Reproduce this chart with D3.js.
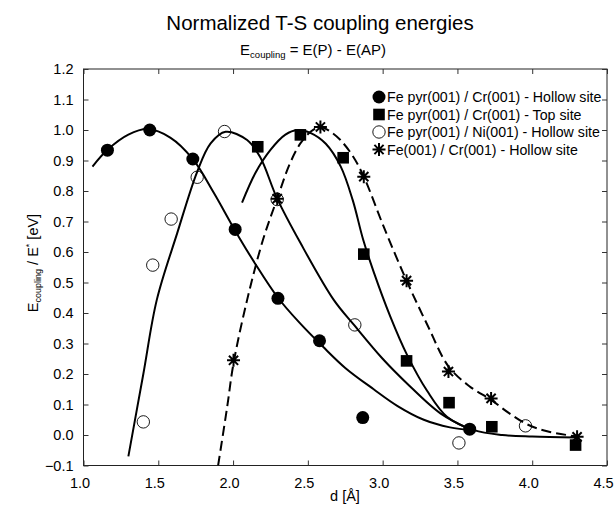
<!DOCTYPE html>
<html>
<head>
<meta charset="utf-8">
<script src="https://cdn.jsdelivr.net/npm/d3@7/dist/d3.min.js"></script>
<style>
  body { margin: 0; background: #fff; }
  svg { display: block; font-family: "Liberation Sans", Arial, Helvetica, sans-serif; }
</style>
</head>
<body>
<svg id="chart" width="616" height="506"></svg>
<script>
// ---- Data ----
const xTicks = [1.0, 1.5, 2.0, 2.5, 3.0, 3.5, 4.0, 4.5];
const yTicks = [-0.1, 0.0, 0.1, 0.2, 0.3, 0.4, 0.5, 0.6, 0.7, 0.8, 0.9, 1.0, 1.1, 1.2];

const seriesNames = [
  "Fe pyr(001) / Cr(001) - Hollow site",
  "Fe pyr(001) / Cr(001) - Top site",
  "Fe pyr(001) / Ni(001) - Hollow site",
  "Fe(001) / Cr(001) - Hollow site"
];

const hollowCr = [[1.16,0.934],[1.443,1.0],[1.731,0.905],[2.014,0.674],[2.30,0.448],[2.578,0.309],[2.867,0.057],[3.582,0.019]];
const topCr    = [[2.165,0.945],[2.45,0.984],[2.736,0.909],[2.874,0.593],[3.16,0.243],[3.444,0.106],[3.73,0.027],[4.29,-0.033]];
const hollowNi = [[1.40,0.043],[1.463,0.557],[1.586,0.708],[1.76,0.845],[1.943,0.995],[2.295,0.772],[2.814,0.361],[3.51,-0.026],[3.955,0.030]];
const feCr     = [[2.003,0.245],[2.295,0.775],[2.584,1.01],[2.874,0.847],[3.16,0.506],[3.44,0.208],[3.725,0.120],[4.30,-0.006]];

// fitted curves
const fitHollowCr = [[1.06,0.88],[1.16,0.935],[1.3,0.985],[1.43,1.003],[1.58,0.975],[1.73,0.905],[1.87,0.795],[2.014,0.67],[2.15,0.56],[2.3,0.45],[2.45,0.365],[2.6,0.29],[2.75,0.22],[2.94,0.15],[3.1,0.095],[3.275,0.05],[3.45,0.025],[3.6,0.015]];
const fitNi = [[1.3,-0.07],[1.4,0.2],[1.49,0.443],[1.626,0.661],[1.76,0.863],[1.85,0.956],[1.95,0.994],[2.094,0.967],[2.18,0.912],[2.295,0.775],[2.45,0.63],[2.673,0.443],[2.81,0.36],[3.0,0.25],[3.163,0.169],[3.386,0.071],[3.58,0.02]];
const fitTop = [[2.06,0.762],[2.15,0.86],[2.25,0.935],[2.35,0.985],[2.43,1.0],[2.52,0.99],[2.62,0.955],[2.72,0.88],[2.8,0.77],[2.87,0.64],[2.94,0.535],[3.05,0.39],[3.164,0.262],[3.297,0.145],[3.43,0.06],[3.61,0.016],[3.8,0.0],[4.0,-0.005],[4.29,-0.008]];
const fitFeCr = [[1.9,-0.1],[1.96,0.09],[2.003,0.235],[2.094,0.443],[2.2,0.64],[2.295,0.775],[2.38,0.89],[2.45,0.956],[2.52,0.995],[2.584,1.01],[2.65,0.995],[2.718,0.967],[2.8,0.915],[2.874,0.847],[3.007,0.683],[3.16,0.506],[3.3,0.36],[3.44,0.225],[3.58,0.16],[3.725,0.115],[3.85,0.07],[3.966,0.035],[4.1,0.012],[4.3,-0.005]];

// ---- Layout ----
const svg = d3.select("#chart");
const L = 83.5, R = 607, T = 69, B = 465.5;
const x = d3.scaleLinear().domain([1.0, 4.5]).range([L, R]);
const y = d3.scaleLinear().domain([-0.1, 1.2]).range([B, T]);

// Title
svg.append("text").attr("x", 320).attr("y", 30).attr("text-anchor", "middle")
  .attr("font-size", 20.5).text("Normalized T-S coupling energies");
const sub = svg.append("text").attr("x", 313).attr("y", 55).attr("text-anchor", "middle").attr("font-size", 15);
sub.append("tspan").text("E");
sub.append("tspan").attr("font-size", 9.5).attr("dy", 3).text("coupling");
sub.append("tspan").attr("dy", -3).text(" = E(P) - E(AP)");

// Frame
svg.append("rect").attr("x", L).attr("y", T).attr("width", R - L).attr("height", B - T)
  .attr("fill", "none").attr("stroke", "#222").attr("stroke-width", 1);

// Axes with inward ticks
const gx = svg.append("g").attr("transform", `translate(0,${B})`)
  .call(d3.axisBottom(x).tickValues(xTicks).tickSize(-5).tickPadding(12).tickFormat(d3.format(".1f")));
const gxt = svg.append("g").attr("transform", `translate(0,${T})`)
  .call(d3.axisTop(x).tickValues(xTicks).tickSize(-5).tickFormat(""));
const gy = svg.append("g").attr("transform", `translate(${L},0)`)
  .call(d3.axisLeft(y).tickValues(yTicks).tickSize(-5).tickPadding(10).tickFormat(d3.format(".1f")));
const gyr = svg.append("g").attr("transform", `translate(${R},0)`)
  .call(d3.axisRight(y).tickValues(yTicks).tickSize(-5).tickFormat(""));
[gx, gxt, gy, gyr].forEach(g => {
  g.select(".domain").remove();
  g.selectAll("line").attr("stroke", "#333");
  g.selectAll("text").attr("font-size", 14.5).attr("fill", "#000")
    .attr("font-family", "'Liberation Sans', Arial, sans-serif");
});
gx.selectAll("text").attr("dx", -4);

// Axis labels
svg.append("text").attr("x", 345).attr("y", 501).attr("text-anchor", "middle")
  .attr("font-size", 14.5).text("d [Å]");
const yl = svg.append("text").attr("transform", "translate(38,263) rotate(-90)")
  .attr("text-anchor", "middle").attr("font-size", 14.5);
yl.append("tspan").text("E");
yl.append("tspan").attr("font-size", 9).attr("dy", 3).text("coupling");
yl.append("tspan").attr("dy", -3).text(" / E");
yl.append("tspan").attr("font-size", 9).attr("dy", -6).text("*");
yl.append("tspan").attr("dy", 6).text(" [eV]");

// Clip
svg.append("clipPath").attr("id", "clip").append("rect")
  .attr("x", L).attr("y", T).attr("width", R - L).attr("height", B - T);

const line = d3.line().x(d => x(d[0])).y(d => y(d[1])).curve(d3.curveCatmullRom.alpha(0.5));
const curves = svg.append("g").attr("clip-path", "url(#clip)");
[fitHollowCr, fitNi, fitTop].forEach(c => {
  curves.append("path").attr("d", line(c)).attr("fill", "none").attr("stroke", "#000").attr("stroke-width", 2);
});
curves.append("path").attr("d", line(fitFeCr)).attr("fill", "none").attr("stroke", "#000")
  .attr("stroke-width", 2).attr("stroke-dasharray", "10,5");

// Markers
function drawMarker(g, type, cx, cy) {
  if (type === 0) {
    g.append("circle").attr("cx", cx).attr("cy", cy).attr("r", 6.5).attr("fill", "#000");
  } else if (type === 1) {
    g.append("rect").attr("x", cx - 5.8).attr("y", cy - 5.8).attr("width", 11.6).attr("height", 11.6).attr("fill", "#000");
  } else if (type === 2) {
    g.append("circle").attr("cx", cx).attr("cy", cy).attr("r", 6.2).attr("fill", "none").attr("stroke", "#000").attr("stroke-width", 0.9);
  } else {
    const r = 6.5;
    const p = d3.path();
    for (let k = 0; k < 4; k++) {
      const a = k * Math.PI / 4;
      p.moveTo(cx - r * Math.cos(a), cy - r * Math.sin(a));
      p.lineTo(cx + r * Math.cos(a), cy + r * Math.sin(a));
    }
    g.append("path").attr("d", p.toString()).attr("stroke", "#000").attr("stroke-width", 2).attr("fill", "none");
  }
}
const marks = svg.append("g");
[hollowNi, hollowCr, topCr, feCr].forEach((s) => {
  const t = s === hollowCr ? 0 : s === topCr ? 1 : s === hollowNi ? 2 : 3;
  s.forEach(d => drawMarker(marks, t, x(d[0]), y(d[1])));
});

// Legend
const lg = svg.append("g");
const legY = [97, 114.5, 132, 149.5];
seriesNames.forEach((name, i) => {
  drawMarker(lg, i, 379, legY[i]);
  lg.append("text").attr("x", 387).attr("y", legY[i] + 5).attr("font-size", 14.2).text(name);
});
</script>
</body>
</html>
